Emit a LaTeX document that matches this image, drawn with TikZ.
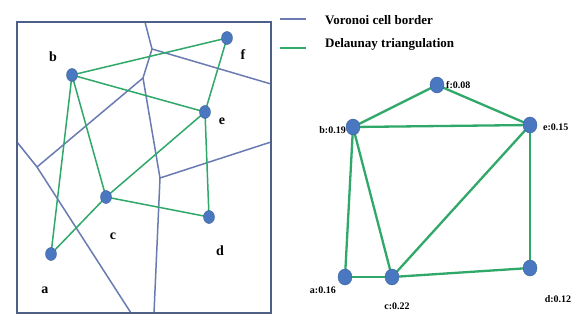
\documentclass[tikz,border=0pt]{standalone}
\usepackage{fontspec}
\setmainfont{Liberation Serif}
\usetikzlibrary{shapes.geometric}
\pgfdeclarelayer{bg}
\pgfdeclarelayer{edges}
\pgfsetlayers{bg,edges,main}
\begin{document}
\begin{tikzpicture}[x=1pt,y=-1pt,
  vor/.style={draw=vorc, line width=1.5pt},
  del/.style={draw=delc, line width=1.5pt},
  delr/.style={draw=delc, line width=2.3pt},
  pt/.style={ellipse, fill=nodec, draw=nodec!80!black, line width=0.4pt, minimum width=11pt, minimum height=13pt, inner sep=0pt},
  ptr/.style={ellipse, fill=nodec, draw=nodec!80!black, line width=0.4pt, minimum width=14pt, minimum height=16pt, inner sep=0pt},
  lbl/.style={font=\bfseries\fontsize{14}{14}\selectfont, inner sep=0pt},
  rlbl/.style={font=\bfseries\fontsize{10}{10}\selectfont, inner sep=0pt},
  leg/.style={font=\bfseries\fontsize{13}{14}\selectfont, inner sep=0pt, anchor=west}]
\definecolor{vorc}{HTML}{6A7BB2}
\definecolor{delc}{HTML}{2FA86A}
\definecolor{nodec}{HTML}{4A78C0}
\definecolor{framec}{HTML}{4E6088}
\useasboundingbox (0,0) rectangle (587,322);
\begin{pgfonlayer}{bg}
\fill[white] (0,0) rectangle (587,322);
% Voronoi edges
\coordinate (t1) at (145,22);
\coordinate (j1) at (152,49);
\coordinate (r1) at (271,84);
\coordinate (j2) at (143,78);
\coordinate (j3) at (37,167);
\coordinate (l1) at (17,142);
\coordinate (b1) at (131,313);
\coordinate (j4) at (160,178);
\coordinate (b2) at (154,313);
\coordinate (r2) at (271,142);
\draw[vor] (t1) -- (j1) -- (r1);
\draw[vor] (j1) -- (j2) -- (j3);
\draw[vor] (l1) -- (j3) -- (b1);
\draw[vor] (j2) -- (j4) -- (b2);
\draw[vor] (j4) -- (r2);
\end{pgfonlayer}
% frame
\draw[draw=framec, line width=2.2pt] (17,22) rectangle (271,313);
% left nodes
\node[pt] (b) at (72,75) {};
\node[pt] (f) at (227,38) {};
\node[pt] (e) at (205,112) {};
\node[pt] (c) at (106,197) {};
\node[pt] (d) at (209,217) {};
\node[pt] (a) at (51,254) {};
\begin{pgfonlayer}{edges}
\draw[del] (b.center) -- (f.center);
\draw[del] (b.center) -- (e.center);
\draw[del] (b.center) -- (c.center);
\draw[del] (b.center) -- (a.center);
\draw[del] (f.center) -- (e.center);
\draw[del] (e.center) -- (d.center);
\draw[del] (c.center) -- (e.center);
\draw[del] (a.center) -- (c.center);
\draw[del] (c.center) -- (d.center);
\end{pgfonlayer}
\node[lbl] (lb) at (53,57) {b};
\node[lbl] (lf) at (243,55) {f};
\node[lbl] (le) at (222,121) {e};
\node[lbl] (lc) at (113,236) {c};
\node[lbl] (ld) at (220,251) {d};
\node[lbl] (la) at (45,290) {a};
% legend
\coordinate (v1) at (280,19);
\coordinate (v2) at (306,19);
\coordinate (g1) at (280,48);
\coordinate (g2) at (306,48);
\draw[vor, line width=1.2pt] (v1) -- (v2);
\draw[del, line width=2pt] (g1) -- (g2);
\node[leg] (legv) at (325,20) {Voronoi cell border};
\node[leg] (legd) at (325,44) {Delaunay triangulation};
% right graph
\node[ptr] (rf) at (437,85) {};
\node[ptr] (re) at (530,125) {};
\node[ptr] (rb) at (353,127) {};
\node[ptr] (ra) at (345,277) {};
\node[ptr] (rc) at (392,277) {};
\node[ptr] (rd) at (530,268) {};
\begin{pgfonlayer}{edges}
\draw[delr] (rf.center) -- (rb.center);
\draw[delr] (rf.center) -- (re.center);
\draw[delr] (rb.center) -- (re.center);
\draw[delr] (rb.center) -- (ra.center);
\draw[delr] (rb.center) -- (rc.center);
\draw[delr] (rc.center) -- (re.center);
\draw[delr] (re.center) -- (rd.center);
\draw[delr] (ra.center) -- (rc.center);
\draw[delr] (rc.center) -- (rd.center);
\end{pgfonlayer}
\node[rlbl, anchor=west] (lrf) at (446,85) {f:0.08};
\node[rlbl, anchor=west] (lre) at (543,127) {e:0.15};
\node[rlbl, anchor=east] (lrb) at (346,130) {b:0.19};
\node[rlbl, anchor=east] (lra) at (336,290) {a:0.16};
\node[rlbl] (lrc) at (397,306) {c:0.22};
\node[rlbl] (lrd) at (558,299) {d:0.12};
\end{tikzpicture}
\end{document}
